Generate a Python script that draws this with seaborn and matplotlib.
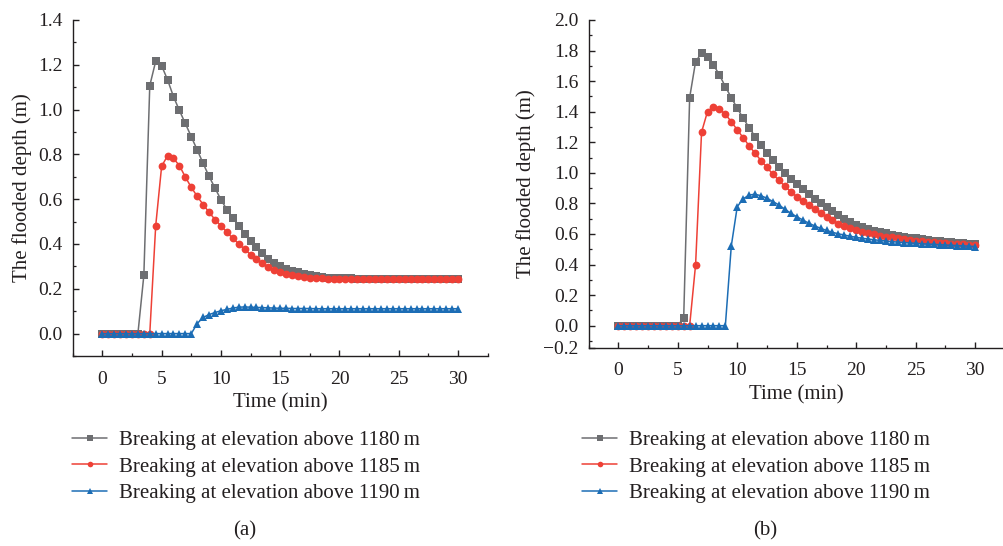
import numpy as np
import pandas as pd
import matplotlib
matplotlib.use("Agg")
import matplotlib.pyplot as plt
from matplotlib.ticker import MultipleLocator, FixedLocator, FixedFormatter
import seaborn as sns

# ---------------- data ----------------
time_min = np.arange(0, 30.5, 0.5)  # sampling grid, 61 points

series_names = ["Breaking at elevation above 1180\u2009m",
                "Breaking at elevation above 1185\u2009m",
                "Breaking at elevation above 1190\u2009m"]

a_1180 = [0, 0, 0, 0, 0, 0, 0,
          0.26, 1.107, 1.216, 1.196, 1.133, 1.058, 0.996, 0.938, 0.879, 0.820,
          0.760, 0.702, 0.650, 0.598, 0.554, 0.517, 0.481, 0.446, 0.412, 0.385,
          0.358, 0.335, 0.316, 0.300, 0.289, 0.280, 0.273, 0.266, 0.260, 0.255,
          0.252, 0.250, 0.248, 0.247,
          0.246, 0.246, 0.245, 0.245, 0.245, 0.245, 0.245, 0.245, 0.245, 0.245,
          0.245, 0.245, 0.245, 0.245, 0.245, 0.245, 0.245, 0.245, 0.245, 0.245]

a_1185 = [0, 0, 0, 0, 0, 0, 0, 0, 0,
          0.481, 0.747, 0.794, 0.782, 0.750, 0.699, 0.653, 0.613, 0.576, 0.542,
          0.509, 0.482, 0.453, 0.425, 0.401, 0.376, 0.353, 0.331, 0.316, 0.298,
          0.286, 0.276, 0.267, 0.261, 0.255, 0.251, 0.249, 0.247, 0.246,
          0.245, 0.244, 0.244, 0.244, 0.244, 0.244, 0.244, 0.244, 0.244, 0.244,
          0.244, 0.244, 0.244, 0.244, 0.244, 0.244, 0.244, 0.244, 0.244, 0.244,
          0.244, 0.244, 0.244]

a_1190 = [0, 0, 0, 0, 0, 0, 0, 0, 0, 0, 0, 0, 0, 0, 0, 0,
          0.045, 0.072, 0.085, 0.094, 0.102, 0.108, 0.114, 0.118, 0.119, 0.118,
          0.117, 0.116, 0.115, 0.114, 0.113, 0.113, 0.112,
          0.112, 0.112, 0.112, 0.111, 0.111, 0.111, 0.111, 0.111, 0.111, 0.111,
          0.111, 0.111, 0.111, 0.111, 0.111, 0.111, 0.111, 0.111, 0.111, 0.111,
          0.111, 0.111, 0.111, 0.111, 0.111, 0.111, 0.111, 0.111]

b_1180 = [0, 0, 0, 0, 0, 0, 0, 0, 0, 0, 0,
          0.052, 1.492, 1.728, 1.783, 1.761, 1.706, 1.641, 1.564, 1.492, 1.423,
          1.357, 1.296, 1.237, 1.183, 1.132, 1.084, 1.039, 0.999, 0.961, 0.926,
          0.893, 0.860, 0.829, 0.801, 0.775, 0.748, 0.722, 0.699, 0.677, 0.658,
          0.645, 0.633, 0.622, 0.613, 0.604, 0.596, 0.589, 0.582, 0.576, 0.571,
          0.566, 0.561, 0.557, 0.553, 0.549, 0.546, 0.543, 0.540, 0.537, 0.534]

b_1185 = [0, 0, 0, 0, 0, 0, 0, 0, 0, 0, 0, 0, 0,
          0.40, 1.266, 1.401, 1.433, 1.418, 1.383, 1.335, 1.281, 1.230, 1.176,
          1.128, 1.080, 1.036, 0.990, 0.951, 0.912, 0.876, 0.844, 0.816, 0.788,
          0.762, 0.736, 0.713, 0.690, 0.668, 0.650, 0.636, 0.624, 0.614, 0.605,
          0.597, 0.590, 0.583, 0.577, 0.571, 0.566, 0.561, 0.557, 0.553, 0.549,
          0.546, 0.543, 0.540, 0.537, 0.534, 0.532, 0.529, 0.527]

b_1190 = [0, 0, 0, 0, 0, 0, 0, 0, 0, 0, 0, 0, 0, 0, 0, 0, 0, 0, 0,
          0.522, 0.779, 0.830, 0.855, 0.860, 0.850, 0.834, 0.812, 0.790, 0.762,
          0.736, 0.713, 0.692, 0.671, 0.653, 0.637, 0.623, 0.611, 0.601, 0.593,
          0.585, 0.578, 0.572, 0.567, 0.562, 0.558, 0.554, 0.550, 0.547, 0.544,
          0.541, 0.539, 0.536, 0.534, 0.532, 0.530, 0.528, 0.526, 0.524, 0.522,
          0.520, 0.518]

x_ticks = [0, 5, 10, 15, 20, 25, 30]
a_yticks = [0.0, 0.2, 0.4, 0.6, 0.8, 1.0, 1.2, 1.4]
b_yticks = [0.0, 0.2, 0.4, 0.6, 0.8, 1.0, 1.2, 1.4, 1.6, 1.8, 2.0]

colors = ["#6d6e71", "#ee4036", "#1c6db5"]
markers = ["s", "o", "^"]


def long_df(vals):
    frames = []
    for name, v in zip(series_names, vals):
        frames.append(pd.DataFrame({"Time": time_min, "Depth": v, "Series": name}))
    return pd.concat(frames, ignore_index=True)


df_a = long_df([a_1180, a_1185, a_1190])
df_b = long_df([b_1180, b_1185, b_1190])

# ---------------- style ----------------
sns.set_theme(style="ticks")
plt.rcParams["font.family"] = ["Liberation Serif", "DejaVu Serif"]
text_col = "#231f20"

fig = plt.figure(figsize=(10.04, 5.46), dpi=100)
ax_a = fig.add_axes([72.7 / 1004, (546 - 356) / 546, 415 / 1004, 336 / 546])
ax_b = fig.add_axes([588.5 / 1004, (546 - 347.7) / 546, 416.5 / 1004, 327.7 / 546])


def draw(ax, df):
    sns.lineplot(data=df, x="Time", y="Depth", hue="Series", style="Series",
                 hue_order=series_names, style_order=series_names,
                 palette=colors, markers=markers, dashes=False,
                 markersize=5.6, markeredgewidth=0, linewidth=1.1,
                 legend=False, ax=ax, estimator=None)
    for s in ["top", "right"]:
        ax.spines[s].set_visible(False)
    for s in ["left", "bottom"]:
        ax.spines[s].set_color(text_col)
        ax.spines[s].set_linewidth(1.0)
    ax.set_xlim(-2.5, 32.5)
    ax.xaxis.set_major_locator(FixedLocator(x_ticks))
    ax.xaxis.set_minor_locator(MultipleLocator(2.5))
    ax.tick_params(axis="both", which="major", direction="in", length=4.5,
                   width=1.0, color=text_col, labelsize=14, labelcolor=text_col)
    ax.tick_params(axis="both", which="minor", direction="in", length=2.5,
                   width=0.9, color=text_col)
    ax.tick_params(axis="x", which="major", pad=10.5)
    ax.tick_params(axis="y", which="major", pad=7)
    ax.set_xlabel("Time (min)", fontsize=15, color=text_col, labelpad=4)
    ax.set_ylabel("The flooded depth (m)", fontsize=15, color=text_col, labelpad=5)
    ax.grid(False)
    return ax.get_lines()


lines_a = draw(ax_a, df_a)
ax_a.set_ylim(-0.1, 1.4)
ax_a.yaxis.set_major_locator(FixedLocator(a_yticks))
ax_a.yaxis.set_major_formatter(FixedFormatter([f"{v:.1f}" for v in a_yticks]))
ax_a.yaxis.set_minor_locator(MultipleLocator(0.1))

lines_b = draw(ax_b, df_b)
b_bottom = -0.144
ax_b.set_ylim(b_bottom, 2.0)
ax_b.yaxis.set_major_locator(FixedLocator([b_bottom] + b_yticks))
ax_b.yaxis.set_major_formatter(FixedFormatter(["\u22120.2"] + [f"{v:.1f}" for v in b_yticks]))
ax_b.yaxis.set_minor_locator(FixedLocator([-0.1] + [v + 0.1 for v in b_yticks[:-1]]))

for lines, x0 in [(lines_a, 72 / 1004), (lines_b, 582 / 1004)]:
    handles = list(lines[:3])
    leg = fig.legend(handles, series_names, loc="upper left",
                     bbox_to_anchor=(x0, 1 - 430.5 / 546), frameon=False,
                     fontsize=15, handlelength=1.7, handletextpad=0.55,
                     labelspacing=0.33, borderpad=0, borderaxespad=0,
                     markerscale=0.72)
    for t in leg.get_texts():
        t.set_color(text_col)

fig.text(245 / 1004, 1 - 531 / 546, "(a)", ha="center", va="center",
         fontsize=15, color=text_col)
fig.text(765 / 1004, 1 - 531 / 546, "(b)", ha="center", va="center",
         fontsize=15, color=text_col)

fig.savefig("out.png", dpi=100)
